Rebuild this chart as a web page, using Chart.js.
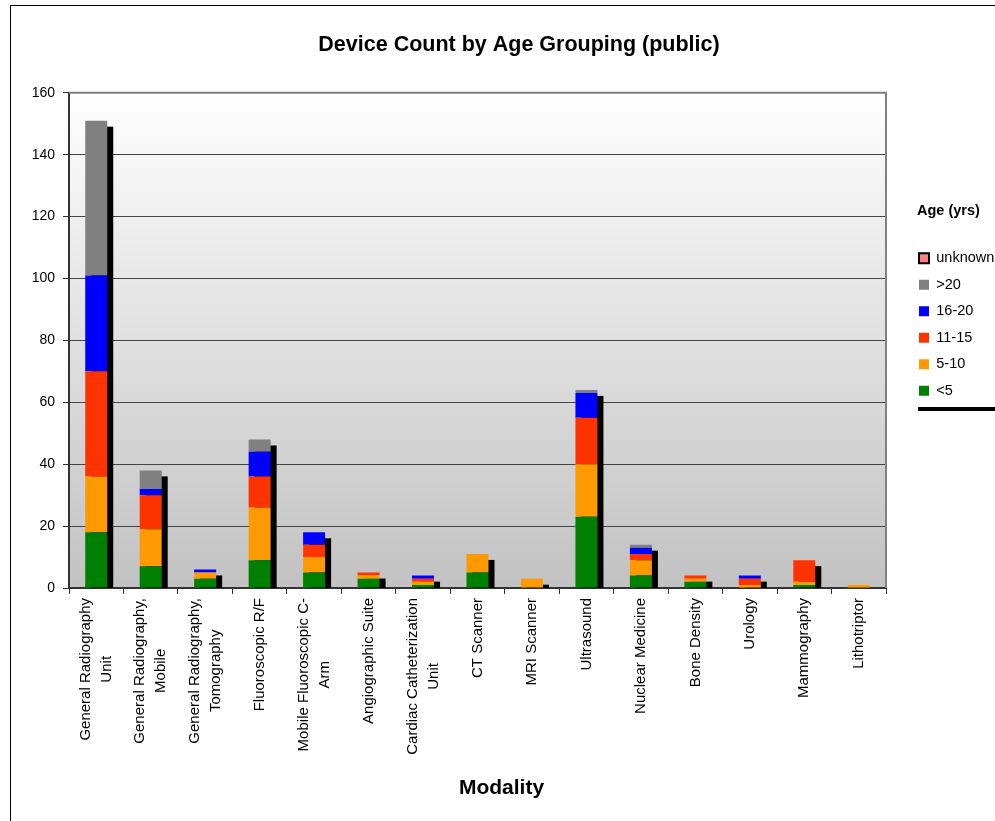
<!DOCTYPE html>
<html>
<head>
<meta charset="utf-8">
<script src="https://cdn.jsdelivr.net/npm/chart.js@4.4.1/dist/chart.umd.min.js"></script>
<style>
html,body{margin:0;padding:0;background:#fff;}
#wrap{width:995px;height:821px;position:relative;overflow:hidden;}
</style>
</head>
<body>
<div id="wrap"><canvas id="c" width="995" height="821"></canvas></div>
<script>
// ---- data ----
const categories = [
  ["General Radiography", "Unit"],
  ["General Radiography,", "Mobile"],
  ["General Radiography,", "Tomography"],
  ["Fluoroscopic R/F"],
  ["Mobile Fluoroscopic C-", "Arm"],
  ["Angiographic Suite"],
  ["Cardiac Catheterization", "Unit"],
  ["CT Scanner"],
  ["MRI Scanner"],
  ["Ultrasound"],
  ["Nuclear Medicine"],
  ["Bone Density"],
  ["Urology"],
  ["Mammography"],
  ["Lithotriptor"]
];
const seriesNames = ["<5", "5-10", "11-15", "16-20", ">20", "unknown"];
const ageUnder5  = [18, 7, 3, 9, 5, 3, 1, 5, 0, 23, 4, 2, 0, 1, 0];
const age5to10   = [18, 12, 2, 17, 5, 1, 1, 6, 3, 17, 5, 1, 1, 1, 1];
const age11to15  = [34, 11, 0, 10, 4, 1, 1, 0, 0, 15, 2, 1, 2, 7, 0];
const age16to20  = [31, 2, 1, 8, 4, 0, 1, 0, 0, 8, 2, 0, 1, 0, 0];
const ageOver20  = [50, 6, 0, 4, 0, 0, 0, 0, 0, 1, 1, 0, 0, 0, 0];
const ageUnknown = [0, 0, 0, 0, 0, 0, 0, 0, 0, 0, 0, 0, 0, 0, 0];
const yTicks = { min: 0, max: 160, step: 20 };
const chartTitle = "Device Count by Age Grouping (public)";
const xTitle = "Modality";
const legendTitle = "Age (yrs)";

// ---- styles ----
const FONT = '"Liberation Sans", Arial, Helvetica, sans-serif';
const seriesColors = ["#008000", "#FF9900", "#FF3300", "#0000FF", "#808080", "#FF8080"];
Chart.defaults.font.family = FONT;
Chart.defaults.color = "#000";

const seriesValues = [ageUnder5, age5to10, age11to15, age16to20, ageOver20, ageUnknown];
const datasets = seriesValues.map((vals, k) => ({
  label: seriesNames[k],
  data: vals,
  backgroundColor: seriesColors[k],
  borderColor: k === 5 ? "#000" : seriesColors[k],
  borderWidth: k === 5 ? 2 : 0,
  stack: "s"
}));

const decor = {
  id: "decor",
  afterUpdate(chart) {
    const T = chart.titleBlock;
    if (T) {
      const dx = 519 - (T.left + T.right) / 2;
      T.left += dx; T.right += dx;
    }
    const L = chart.legend;
    if (!L) return;
    const w = L.width, h = L.height;
    L.left = 907; L.right = 907 + w;
    L.top = 204; L.bottom = 204 + h;
    if (!L._titlePatched) {
      const orig = L.drawTitle.bind(L);
      L.drawTitle = function () {
        this.ctx.save();
        this.ctx.translate(10, 0);
        orig();
        this.ctx.restore();
      };
      L._titlePatched = true;
    }
  },
  beforeDraw(chart) {
    const { ctx, chartArea: a } = chart;
    ctx.save();
    ctx.fillStyle = "#fff";
    ctx.fillRect(0, 0, chart.width, chart.height);
    ctx.strokeStyle = "#000";
    ctx.lineWidth = 1;
    ctx.strokeRect(10.5, 5.5, 1200, 1200);
    const g = ctx.createLinearGradient(0, a.top, 0, a.bottom);
    g.addColorStop(0, "#fefefe");
    g.addColorStop(1, "#c2c2c2");
    ctx.fillStyle = g;
    ctx.fillRect(a.left, a.top, a.right - a.left, a.bottom - a.top);
    ctx.restore();
  },
  beforeDatasetsDraw(chart) {
    const { ctx, chartArea: a } = chart;
    ctx.save();
    // plot frame (top and right)
    ctx.strokeStyle = "#808080";
    ctx.lineWidth = 2;
    ctx.beginPath();
    ctx.moveTo(a.left, a.top);
    ctx.lineTo(a.right, a.top);
    ctx.lineTo(a.right, a.bottom);
    ctx.stroke();
    // drop shadow of each stacked bar
    ctx.beginPath();
    ctx.rect(a.left, a.top, a.right - a.left, a.bottom - a.top);
    ctx.clip();
    ctx.fillStyle = "#000";
    const n = chart.data.labels.length;
    for (let i = 0; i < n; i++) {
      let top = Infinity, base = null, x = null, w = null;
      chart.data.datasets.forEach((ds, k) => {
        const v = ds.data[i];
        if (!v) return;
        const el = chart.getDatasetMeta(k).data[i];
        const p = el.getProps(["x", "y", "base", "width"], true);
        top = Math.min(top, p.y);
        if (base === null) base = p.base;
        x = p.x; w = p.width;
      });
      if (x === null) continue;
      ctx.fillRect(x - w / 2 + 6, top + 6, w, base - top);
    }
    ctx.restore();
  },
  afterDraw(chart) {
    const { ctx, chartArea: a, scales } = chart;
    const xs = scales.x;
    ctx.save();
    // category labels (rotated, lines centred)
    ctx.font = "15px " + FONT;
    ctx.fillStyle = "#000";
    ctx.textAlign = "center";
    ctx.textBaseline = "middle";
    const lh = 21;
    const top = a.bottom + 10;
    categories.forEach((lab, i) => {
      const lines = Array.isArray(lab) ? lab : [lab];
      const maxW = Math.max(...lines.map(l => ctx.measureText(l).width));
      const px = xs.getPixelForValue(i);
      ctx.save();
      ctx.translate(px, top + maxW / 2);
      ctx.rotate(-Math.PI / 2);
      lines.forEach((l, j) => ctx.fillText(l, 0, (j - (lines.length - 1) / 2) * lh));
      ctx.restore();
    });
    // axis title
    ctx.font = "bold 21px " + FONT;
    ctx.fillText(xTitle, (a.left + a.right) / 2 + 24, 788);
    // legend shadow line
    ctx.fillStyle = "#000";
    ctx.fillRect(918, 407, 90, 4);
    ctx.restore();
  }
};

new Chart(document.getElementById("c"), {
  type: "bar",
  data: { labels: categories, datasets },
  options: {
    responsive: false,
    animation: false,
    layout: { padding: { left: 0, right: 109, top: 0, bottom: 0 } },
    datasets: { bar: { categoryPercentage: 1, barPercentage: 0.404 } },
    plugins: {
      title: {
        display: true,
        text: chartTitle,
        color: "#000",
        font: { size: 21.5, weight: "bold" },
        padding: { top: 32, bottom: 35 }
      },
      legend: {
        position: "chartArea",
        align: "start",
        reverse: true,
        title: {
          display: true,
          text: legendTitle,
          position: "start",
          color: "#000",
          font: { size: 14.5, weight: "bold" },
          padding: { top: 0, bottom: 17.7 }
        },
        labels: { boxWidth: 10, boxHeight: 10, padding: 12, color: "#000", font: { size: 14.5 } }
      },
      tooltip: { enabled: false }
    },
    scales: {
      x: {
        stacked: true,
        ticks: { display: false },
        grid: { display: true, drawOnChartArea: false, offset: true, drawTicks: true, tickLength: 6, tickColor: "#333", tickWidth: 1 },
        border: { display: true, color: "#333", width: 2 },
        afterFit(s) { s.height = 233; }
      },
      y: {
        stacked: true,
        min: yTicks.min,
        max: yTicks.max,
        ticks: { stepSize: yTicks.step, color: "#000", font: { size: 14 }, padding: 8 },
        grid: { color: "#444", lineWidth: 1, tickLength: 6, tickColor: "#333" },
        border: { display: true, color: "#333", width: 2 },
        afterFit(s) { s.width = 69; }
      }
    }
  },
  plugins: [decor]
});
</script>
</body>
</html>
